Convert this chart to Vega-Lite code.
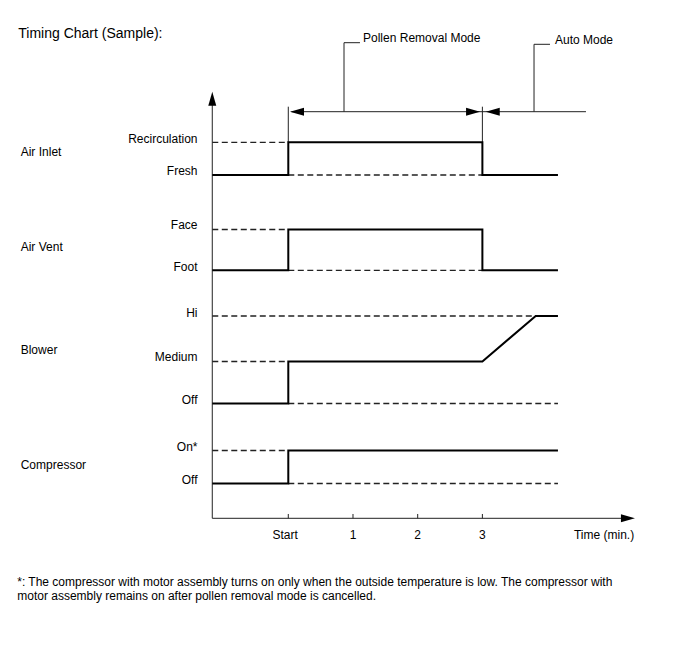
{
  "$schema": "https://vega.github.io/schema/vega-lite/v6.json",
  "width": 688,
  "height": 658,
  "autosize": {"type": "fit", "contains": "padding"},
  "padding": 0,
  "background": "white",
  "config": {"view": {"stroke": null}, "text": {"font": "Liberation Sans", "color": "#000"}},
  "datasets": {
    "signals": [
      {"signal": "Air Inlet", "i": 0, "t": -1.175, "level": 34.33},
      {"signal": "Air Inlet", "i": 1, "t": 0, "level": 34.33},
      {"signal": "Air Inlet", "i": 2, "t": 0, "level": 37.6},
      {"signal": "Air Inlet", "i": 3, "t": 3, "level": 37.6},
      {"signal": "Air Inlet", "i": 4, "t": 3, "level": 34.33},
      {"signal": "Air Inlet", "i": 5, "t": 4.168, "level": 34.33},
      {"signal": "Air Vent", "i": 0, "t": -1.175, "level": 24.8},
      {"signal": "Air Vent", "i": 1, "t": 0, "level": 24.8},
      {"signal": "Air Vent", "i": 2, "t": 0, "level": 28.88},
      {"signal": "Air Vent", "i": 3, "t": 3, "level": 28.88},
      {"signal": "Air Vent", "i": 4, "t": 3, "level": 24.8},
      {"signal": "Air Vent", "i": 5, "t": 4.168, "level": 24.8},
      {"signal": "Blower", "i": 0, "t": -1.175, "level": 11.48},
      {"signal": "Blower", "i": 1, "t": 0, "level": 11.48},
      {"signal": "Blower", "i": 2, "t": 0, "level": 15.68},
      {"signal": "Blower", "i": 3, "t": 3, "level": 15.68},
      {"signal": "Blower", "i": 4, "t": 3.824, "level": 20.23},
      {"signal": "Blower", "i": 5, "t": 4.168, "level": 20.23},
      {"signal": "Compressor", "i": 0, "t": -1.175, "level": 3.48},
      {"signal": "Compressor", "i": 1, "t": 0, "level": 3.48},
      {"signal": "Compressor", "i": 2, "t": 0, "level": 6.78},
      {"signal": "Compressor", "i": 3, "t": 4.168, "level": 6.78}
    ],
    "references": [
      {"state": "Recirculation", "t": -1.175, "t2": 0, "level": 37.6},
      {"state": "Fresh", "t": 0, "t2": 3, "level": 34.33},
      {"state": "Face", "t": -1.175, "t2": 0, "level": 28.88},
      {"state": "Foot", "t": 0, "t2": 3, "level": 24.8},
      {"state": "Hi", "t": -1.175, "t2": 3.824, "level": 20.23},
      {"state": "Medium", "t": -1.175, "t2": 0, "level": 15.68},
      {"state": "Off", "t": 0, "t2": 4.168, "level": 11.48},
      {"state": "On*", "t": -1.175, "t2": 0, "level": 6.78},
      {"state": "Off", "t": 0, "t2": 4.168, "level": 3.48}
    ],
    "guides": [
      {"part": "y axis", "t": -1.175, "t2": -1.175, "level": 0, "level2": 41.6},
      {"part": "x axis", "t": -1.175, "t2": 5.15, "level": 0, "level2": 0},
      {"part": "tick", "t": 0, "t2": 0, "level": 0, "level2": 0.43},
      {"part": "tick", "t": 1, "t2": 1, "level": 0, "level2": 0.43},
      {"part": "tick", "t": 2, "t2": 2, "level": 0, "level2": 0.43},
      {"part": "tick", "t": 3, "t2": 3, "level": 0, "level2": 0.43},
      {"part": "mode start", "t": 0, "t2": 0, "level": 37.6, "level2": 41.16},
      {"part": "mode end", "t": 3, "t2": 3, "level": 37.6, "level2": 41.16},
      {"part": "mode span", "t": 0.05, "t2": 4.601, "level": 40.66, "level2": 40.66},
      {"part": "pollen leader", "t": 0.861, "t2": 0.861, "level": 40.66, "level2": 47.56},
      {"part": "pollen leader", "t": 0.861, "t2": 1.108, "level": 47.56, "level2": 47.56},
      {"part": "auto leader", "t": 3.798, "t2": 3.798, "level": 40.66, "level2": 47.4},
      {"part": "auto leader", "t": 3.798, "t2": 4.045, "level": 47.4, "level2": 47.4}
    ],
    "arrows": [
      {"dir": "up", "t": -1.175, "level": 42.66},
      {"dir": "right", "t": 5.358, "level": 0},
      {"dir": "left", "t": 0.026, "level": 40.66},
      {"dir": "right", "t": 2.964, "level": 40.66},
      {"dir": "left", "t": 3.052, "level": 40.66}
    ],
    "labels": [
      {"role": "heading", "text": "Timing Chart (Sample):", "t": -4.173, "level": 48.43},
      {"role": "mode", "text": "Pollen Removal Mode", "t": 1.155, "level": 48.08},
      {"role": "mode", "text": "Auto Mode", "t": 4.122, "level": 47.83},
      {"role": "group", "text": "Air Inlet", "t": -4.136, "level": 36.63},
      {"role": "group", "text": "Air Vent", "t": -4.136, "level": 27.16},
      {"role": "group", "text": "Blower", "t": -4.136, "level": 16.83},
      {"role": "group", "text": "Compressor", "t": -4.136, "level": 5.33},
      {"role": "state", "text": "Recirculation", "t": -1.403, "level": 37.98},
      {"role": "state", "text": "Fresh", "t": -1.403, "level": 34.73},
      {"role": "state", "text": "Face", "t": -1.403, "level": 29.33},
      {"role": "state", "text": "Foot", "t": -1.403, "level": 25.16},
      {"role": "state", "text": "Hi", "t": -1.403, "level": 20.5},
      {"role": "state", "text": "Medium", "t": -1.403, "level": 16.1},
      {"role": "state", "text": "Off", "t": -1.403, "level": 11.83},
      {"role": "state", "text": "On*", "t": -1.403, "level": 7.16},
      {"role": "state", "text": "Off", "t": -1.403, "level": 3.83},
      {"role": "tick", "text": "Start", "t": -0.05, "level": -1.67},
      {"role": "tick", "text": "1", "t": 1, "level": -1.67},
      {"role": "tick", "text": "2", "t": 2, "level": -1.67},
      {"role": "tick", "text": "3", "t": 3, "level": -1.67},
      {"role": "tick", "text": "Time (min.)", "t": 4.88, "level": -1.67},
      {"role": "note", "text": "*: The compressor with motor assembly turns on only when the outside temperature is low. The compressor with", "t": -4.19, "level": -6.37},
      {"role": "note", "text": "motor assembly remains on after pollen removal mode is cancelled.", "t": -4.19, "level": -7.77}
    ]
  },
  "layer": [
    {
      "data": {"name": "references"},
      "mark": {"type": "rule", "strokeWidth": 1.3, "strokeDash": [6, 3.5], "color": "#222"},
      "encoding": {
        "x": {"field": "t", "type": "quantitative", "scale": {"domain": [-4.456, 6.178], "nice": false, "zero": false}, "axis": null},
        "x2": {"field": "t2"},
        "y": {"field": "level", "type": "quantitative", "scale": {"domain": [-13.97, 51.83], "nice": false, "zero": false}, "axis": null}
      }
    },
    {
      "data": {"name": "guides"},
      "mark": {"type": "rule", "strokeWidth": 1, "color": "#222"},
      "encoding": {
        "x": {"field": "t", "type": "quantitative", "scale": {"domain": [-4.456, 6.178], "nice": false, "zero": false}, "axis": null},
        "x2": {"field": "t2"},
        "y": {"field": "level", "type": "quantitative", "scale": {"domain": [-13.97, 51.83], "nice": false, "zero": false}, "axis": null},
        "y2": {"field": "level2"}
      }
    },
    {
      "data": {"name": "signals"},
      "mark": {"type": "line", "strokeWidth": 2, "color": "#000", "strokeJoin": "miter"},
      "encoding": {
        "x": {"field": "t", "type": "quantitative", "scale": {"domain": [-4.456, 6.178], "nice": false, "zero": false}, "axis": null},
        "y": {"field": "level", "type": "quantitative", "scale": {"domain": [-13.97, 51.83], "nice": false, "zero": false}, "axis": null},
        "detail": {"field": "signal", "type": "nominal"},
        "order": {"field": "i", "type": "quantitative"}
      }
    },
    {
      "data": {"name": "arrows"},
      "mark": {"type": "point", "filled": true, "opacity": 1, "color": "#000", "size": 196},
      "encoding": {
        "x": {"field": "t", "type": "quantitative", "scale": {"domain": [-4.456, 6.178], "nice": false, "zero": false}, "axis": null},
        "y": {"field": "level", "type": "quantitative", "scale": {"domain": [-13.97, 51.83], "nice": false, "zero": false}, "axis": null},
        "shape": {"field": "dir", "type": "nominal", "legend": null, "scale": {"domain": ["left", "right", "up"], "range": ["M0,0L2,-0.571L2,0.571Z", "M0,0L-2,-0.571L-2,0.571Z", "M0,0L-0.571,2L0.571,2Z"]}}
      }
    },
    {
      "data": {"name": "labels"},
      "transform": [{"filter": "datum.role === 'heading'"}],
      "mark": {"type": "text", "align": "left", "baseline": "middle", "fontSize": 14},
      "encoding": {
        "x": {"field": "t", "type": "quantitative", "scale": {"domain": [-4.456, 6.178], "nice": false, "zero": false}, "axis": null},
        "y": {"field": "level", "type": "quantitative", "scale": {"domain": [-13.97, 51.83], "nice": false, "zero": false}, "axis": null},
        "text": {"field": "text"}
      }
    },
    {
      "data": {"name": "labels"},
      "transform": [{"filter": "datum.role === 'group' || datum.role === 'mode' || datum.role === 'note'"}],
      "mark": {"type": "text", "align": "left", "baseline": "middle", "fontSize": 12},
      "encoding": {
        "x": {"field": "t", "type": "quantitative", "scale": {"domain": [-4.456, 6.178], "nice": false, "zero": false}, "axis": null},
        "y": {"field": "level", "type": "quantitative", "scale": {"domain": [-13.97, 51.83], "nice": false, "zero": false}, "axis": null},
        "text": {"field": "text"}
      }
    },
    {
      "data": {"name": "labels"},
      "transform": [{"filter": "datum.role === 'state'"}],
      "mark": {"type": "text", "align": "right", "baseline": "middle", "fontSize": 12},
      "encoding": {
        "x": {"field": "t", "type": "quantitative", "scale": {"domain": [-4.456, 6.178], "nice": false, "zero": false}, "axis": null},
        "y": {"field": "level", "type": "quantitative", "scale": {"domain": [-13.97, 51.83], "nice": false, "zero": false}, "axis": null},
        "text": {"field": "text"}
      }
    },
    {
      "data": {"name": "labels"},
      "transform": [{"filter": "datum.role === 'tick'"}],
      "mark": {"type": "text", "align": "center", "baseline": "middle", "fontSize": 12},
      "encoding": {
        "x": {"field": "t", "type": "quantitative", "scale": {"domain": [-4.456, 6.178], "nice": false, "zero": false}, "axis": null},
        "y": {"field": "level", "type": "quantitative", "scale": {"domain": [-13.97, 51.83], "nice": false, "zero": false}, "axis": null},
        "text": {"field": "text"}
      }
    }
  ]
}
